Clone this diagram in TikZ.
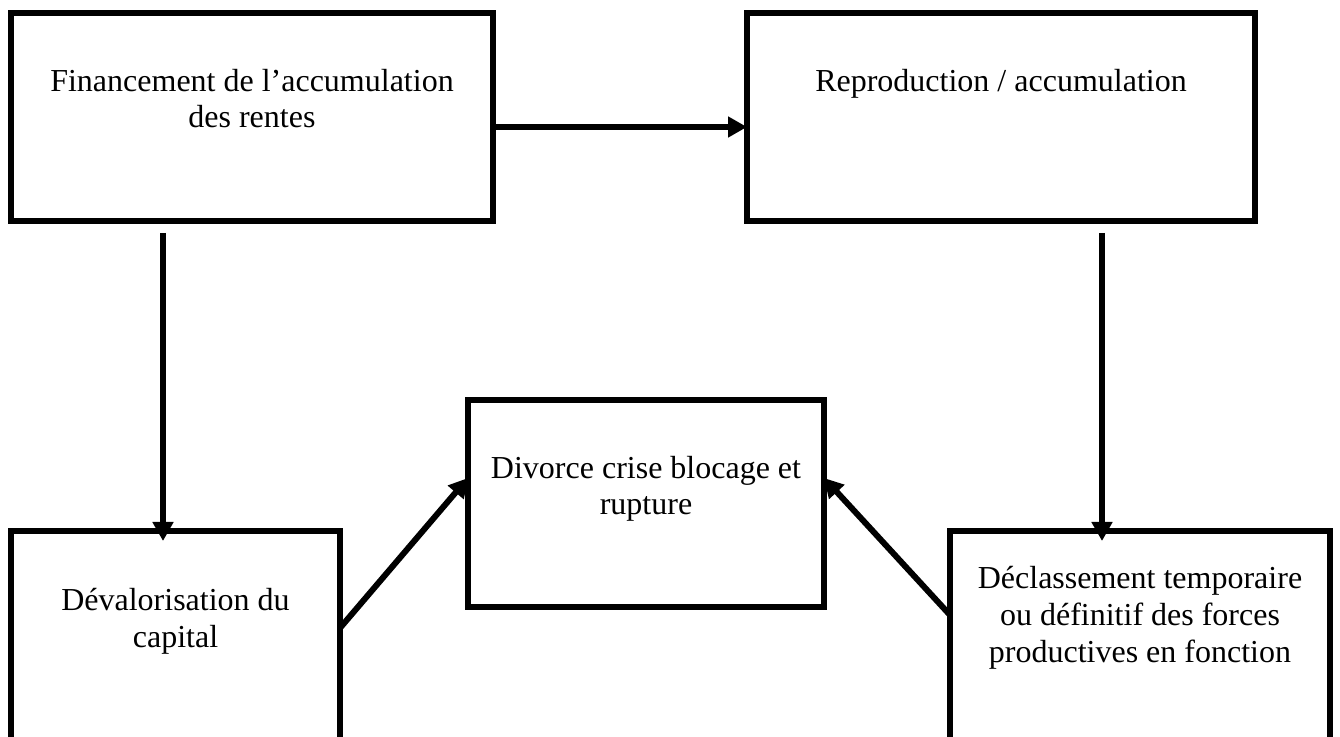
\documentclass[tikz,border=0pt]{standalone}
\usepackage{fontspec}
\setmainfont{Liberation Serif}
\usetikzlibrary{arrows.meta,calc}
\begin{document}
\begin{tikzpicture}[x=0.5pt,y=-0.5pt,
  box/.style={draw, line width=3pt, inner sep=0pt, outer sep=0pt, rectangle},
  lbl/.style={align=center, font=\fontsize{16}{18.4}\selectfont, inner sep=0pt, anchor=base},
  arr/.style={line width=3pt, -{Triangle[length=9.5pt,width=10pt]}}]
\clip (0,0) rectangle (1340,737);
\fill[white] (0,0) rectangle (1340,737);
% boxes
\node[box, minimum width=241pt, minimum height=104pt] (tl) at (252,117) {};
\node[box, minimum width=254pt, minimum height=104pt] (tr) at (1001,117) {};
\node[box, minimum width=178pt, minimum height=103.5pt] (mid) at (646,503.5) {};
\node[box, minimum width=164.5pt, minimum height=134.5pt] (bl) at (175.5,665.5) {};
\node[box, minimum width=190pt, minimum height=134.5pt] (br) at (1140,665.5) {};
% labels (anchor = baseline of the last line)
\node[lbl] (tlt) at (252,128) {Financement de l’accumulation\\des rentes};
\node[lbl] (trt) at (1001,92) {Reproduction / accumulation};
\node[lbl] (midt) at (646,515) {Divorce crise blocage et\\rupture};
\node[lbl] (blt) at (175.5,647) {Dévalorisation du\\capital};
\node[lbl] (brt) at (1140,662) {Déclassement temporaire\\ou définitif des forces\\productives en fonction};
% connector end points
\coordinate (ls) at ($(tl.south)+(-89,12)$);
\coordinate (rs) at ($(tr.south)+(101,12)$);
% arrows
\draw[arr] ($(tl.north east)+(0,114)$) -- ($(tr.north west)+(0,114)$);
\draw[arr] (ls) -- ($(bl.north)+(-12.5,10)$);
\draw[arr] (rs) -- ($(br.north)+(-38,10)$);
\draw[arr] ($(bl.north east)+(0,97)$) -- ($(mid.north west)+(0,78)$);
\draw[arr] ($(br.north west)+(0,84)$) -- ($(mid.north east)+(0,78)$);
\end{tikzpicture}
\end{document}
